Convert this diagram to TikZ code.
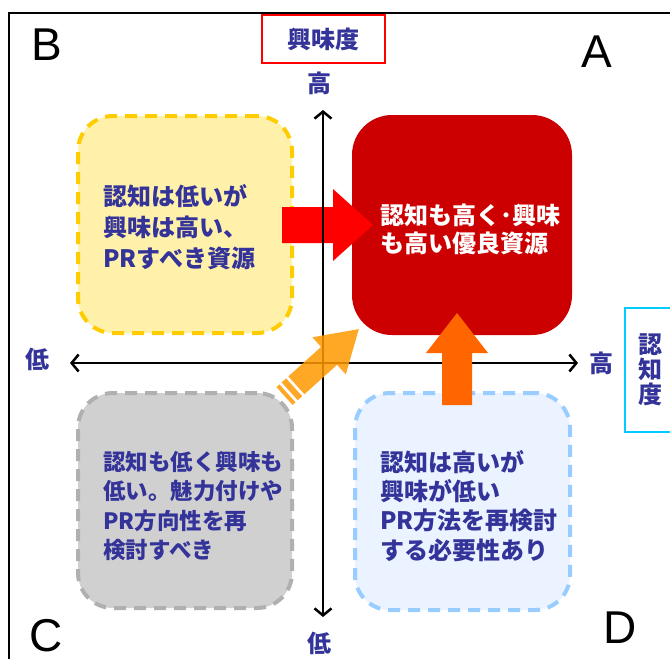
\documentclass[tikz,border=0pt]{standalone}
\usepackage{fontspec}
\setmainfont{Liberation Sans}
\newfontfamily\jp{Noto Sans CJK JP}
\usetikzlibrary{arrows.meta}
\definecolor{navy}{HTML}{333399}
\definecolor{boxred}{HTML}{CC0000}
\definecolor{yelfill}{HTML}{FFF1AA}
\definecolor{yelline}{HTML}{FFCC00}
\definecolor{grayfill}{HTML}{D0D0D0}
\definecolor{grayline}{HTML}{B0B0B0}
\definecolor{bluefill}{HTML}{EAF3FF}
\definecolor{blueline}{HTML}{99CCFF}
\definecolor{arrred}{HTML}{FF0000}
\definecolor{arrorange}{HTML}{FF6600}
\definecolor{arramber}{HTML}{FF9900}
\definecolor{cyanline}{HTML}{00CCFF}
\tikzset{
  quad/.style={rectangle, inner sep=0pt, line width=4pt, dash pattern=on 12pt off 8pt, rounded corners=35pt},
  jtext/.style={inner sep=0pt, align=left, text=navy, font=\jp\bfseries},
  axlabel/.style={inner sep=0pt, text=navy, font=\jp\bfseries\fontsize{24}{24}\selectfont},
  letter/.style={inner sep=0pt, font=\fontsize{46}{46}\selectfont},
  axisline/.style={line width=2.5pt, {Straight Barb[length=7pt,width=17pt]}-{Straight Barb[length=7pt,width=17pt]}},
}
\begin{document}
\begin{tikzpicture}[x=1pt,y=-1pt]
\useasboundingbox (0,0) rectangle (670,659);
% frame
\draw[line width=2pt] (9,660) -- (9,13) -- (671,13);

% quadrant boxes
\node[quad, fill=yelfill, draw=yelline, minimum width=214pt, minimum height=217pt] (boxB) at (185,224.5) {};
\node[quad, fill=boxred, draw=none, solid, rounded corners=40pt, minimum width=220pt, minimum height=220pt] (boxA) at (462,225) {};
\node[quad, fill=grayfill, draw=grayline, minimum width=214pt, minimum height=215pt] (boxC) at (185,500.5) {};
\node[quad, fill=bluefill, draw=blueline, minimum width=215pt, minimum height=217pt] (boxD) at (462.5,501.5) {};

% texts
\node[jtext, anchor=west, font=\jp\bfseries\fontsize{24}{31}\selectfont] (tB) at (103,227.5) {認知は低いが\\興味は高い、\\PRすべき資源};
\node[jtext, anchor=west, text=white, font=\jp\bfseries\fontsize{24}{28}\selectfont] (tA) at (380,229) {認知も高く･興味\\も高い優良資源};
\node[jtext, anchor=west, font=\jp\bfseries\fontsize{22.5}{29.5}\selectfont] (tC) at (103,506) {認知も低く興味も\\低い。魅力付けや\\PR方向性を再\\検討すべき};
\node[jtext, anchor=west, font=\jp\bfseries\fontsize{24}{29.3}\selectfont] (tD) at (380,506) {認知は高いが\\興味が低い\\PR方法を再検討\\する必要性あり};

% red arrow B -> A
\fill[arrred] (282,207) -- (333,207) -- (333,189) -- (373,225) -- (333,261) -- (333,243) -- (282,243) -- cycle;

% axes
\coordinate (vtop) at (323,110);
\coordinate (vbot) at (323,617);
\coordinate (hleft) at (70,363);
\coordinate (hright) at (578,363);
\draw[axisline] (vbot) -- (vtop);
\draw[axisline] (hleft) -- (hright);

% orange up arrow D -> A
\fill[arrorange] (442,405) -- (442,353) -- (426,353) -- (457,313) -- (488,353) -- (472,353) -- (472,405) -- cycle;

% striped diagonal arrow C -> A
\begin{scope}[shift={(284.5,396)}, rotate=42, fill=arramber, fill opacity=0.85]
  \fill (0,-12) rectangle (4,12);
  \fill (7,-12) rectangle (13,12);
  \fill (16,-12) -- (60,-12) -- (60,-25) -- (100,0) -- (60,25) -- (60,12) -- (16,12) -- cycle;
\end{scope}

% axis labels
\node[axlabel] (hiY) at (319,83) {高};
\node[axlabel] (loY) at (319,643) {低};
\node[axlabel] (loX) at (37,359) {低};
\node[axlabel] (hiX) at (601,363) {高};

% axis title boxes
\node[draw=red, line width=2pt, minimum width=123pt, minimum height=48pt, inner sep=0pt, text=navy, font=\jp\bfseries\fontsize{24}{24}\selectfont] (tInt) at (323.5,39) {興味度};
\node[draw=cyanline, line width=2pt, minimum width=50pt, minimum height=124pt, inner sep=0pt, anchor=west, text=navy, align=center, font=\jp\bfseries\fontsize{24}{25}\selectfont] (tRec) at (624,370) {認\\知\\度};

% quadrant letters
\node[letter] (lB) at (47,45) {B};
\node[letter] (lA) at (597,52) {A};
\node[letter] (lC) at (46,636) {C};
\node[letter] (lD) at (620,628) {D};
\end{tikzpicture}
\end{document}
